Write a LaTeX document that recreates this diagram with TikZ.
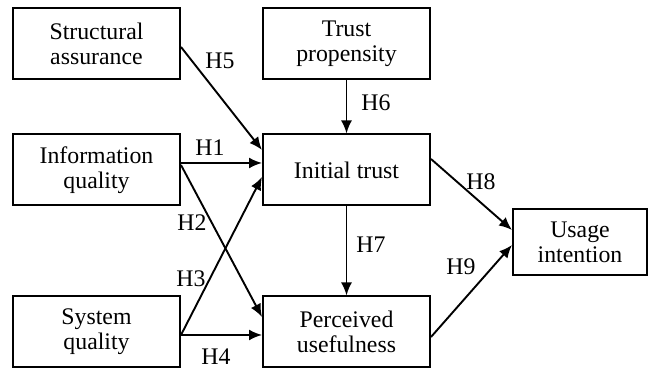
\documentclass[tikz,border=0pt]{standalone}
\usepackage{fontspec}
\setmainfont{Liberation Serif}
\usetikzlibrary{arrows.meta}

\begin{document}
\begin{tikzpicture}[%%
  x=1pt,y=1pt,%%
  arrowStyle/.style={-{Latex[length=13pt,width=11pt]},line width=1.9pt},%%
  boxStyle/.style={draw,line width=2pt,align=center,inner sep=0pt,%%
    minimum width=\bwidth pt,minimum height=\bheight pt},%%
  labelStyle/.style={inner sep=0pt}%%
]
%%
%%
\pgfmathsetmacro{\bwidth}{167}
\pgfmathsetmacro{\bheight}{71}
\pgfmathsetmacro{\xleft}{96.5}   %% the column of the three sources
\pgfmathsetmacro{\xmid}{346.5}
\pgfmathsetmacro{\xright}{580}
\pgfmathsetmacro{\ytop}{325}
\pgfmathsetmacro{\ymid}{199}
\pgfmathsetmacro{\ylow}{37}
%%
\useasboundingbox (0,0) rectangle (649,369);
\fontsize{23.8}{25}\selectfont
%%
%% The boxes of the left column.
\node[boxStyle] (structAssur) at (\xleft,\ytop) {Structural\\assurance};
\node[boxStyle] (infoQual) at (\xleft,\ymid) {Information\\quality};
\node[boxStyle] (sysQual) at (\xleft,\ylow) {System\\quality};
%% The boxes of the middle column.
\node[boxStyle] (trustProp) at (\xmid,\ytop) {Trust\\propensity};
\node[boxStyle] (initTrust) at (\xmid,\ymid) {Initial trust};
\node[boxStyle] (percUse) at (\xmid,\ylow) {Perceived\\usefulness};
%% The outcome.
\node[boxStyle,minimum width=134pt,minimum height=66pt] (usageInt)
  at (\xright,127) {Usage\\intention};
%%
%% Paths into initial trust.
\draw[arrowStyle] ([yshift=-3pt]structAssur.east) -- ([yshift=20pt]initTrust.west);
\draw[arrowStyle] ([yshift=7pt]infoQual.east) -- ([yshift=7pt]initTrust.west);
\draw[arrowStyle] ([yshift=-3pt]sysQual.east) -- ([yshift=-7pt]initTrust.west);
\draw[arrowStyle] (trustProp.south) -- (initTrust.north);
%% Paths into perceived usefulness.
\draw[arrowStyle] ([yshift=5pt]infoQual.east) -- ([yshift=15pt]percUse.west);
\draw[arrowStyle] ([yshift=-3pt]sysQual.east) -- ([yshift=-3pt]percUse.west);
\draw[arrowStyle] (initTrust.south) -- (percUse.north);
%% Paths into usage intention.
\draw[arrowStyle] ([yshift=11pt]initTrust.east) -- ([yshift=12pt]usageInt.west);
\draw[arrowStyle] ([yshift=-5pt]percUse.east) -- ([yshift=-3pt]usageInt.west);
%%
%% The hypothesis labels.
\node[labelStyle] (hFive) at (220,308) {H5};
\node[labelStyle] (hOne) at (210,221) {H1};
\node[labelStyle] (hTwo) at (192,146) {H2};
\node[labelStyle] (hThree) at (191,90) {H3};
\node[labelStyle] (hFour) at (216,12) {H4};
\node[labelStyle] (hSix) at (376,266) {H6};
\node[labelStyle] (hSeven) at (371,124) {H7};
\node[labelStyle] (hEight) at (481,187) {H8};
\node[labelStyle] (hNine) at (461,102) {H9};
\end{tikzpicture}
\end{document}
